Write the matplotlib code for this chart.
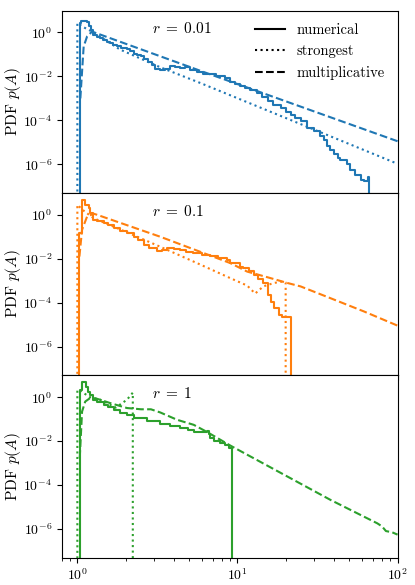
import matplotlib
matplotlib.use("Agg")
import matplotlib.pyplot as plt
from matplotlib.lines import Line2D
from matplotlib.ticker import FixedLocator, NullLocator

plt.rcParams["font.family"] = "serif"
plt.rcParams["font.serif"] = ["cmr10", "DejaVu Serif"]
plt.rcParams["mathtext.fontset"] = "cm"
plt.rcParams["axes.formatter.use_mathtext"] = True
plt.rcParams["axes.unicode_minus"] = False

# ---- data ----
r_labels = [r"$r\;=\;0.01$", r"$r\;=\;0.1$", r"$r\;=\;1$"]
colors = ["#1f77b4", "#ff7f0e", "#2ca02c"]

# r = 0.01
num1_x = [1.0, 1.04, 1.06, 1.095, 1.15, 1.19, 1.22, 1.26, 1.33, 1.39, 1.45, 1.54, 1.61, 1.68,
          1.78, 1.88, 2.04, 2.14, 2.27, 2.37, 2.48, 2.62, 2.78, 2.94, 3.07, 3.3, 3.55, 3.81,
          4.1, 4.4, 4.73, 5.08, 5.55, 6.13, 6.78, 7.3, 7.83, 8.4, 9.04, 9.7, 10.4, 11.2, 12.06,
          13.2, 14.3, 15.6, 16.7, 18.6, 20.0, 21.5, 23.0, 24.8, 27.2, 29.9, 33.0, 34.5, 36.5,
          38.1, 39.8, 42.2, 44.0, 48.5, 50.8, 54.6, 58.7, 61.3, 64.9, 65.9]
num1_y = [1e-9, 2.7, 3.3, 3.5, 3.0, 1.9, 1.3, 0.79, 0.65, 0.55, 0.47, 0.38, 0.33, 0.28,
          0.24, 0.2, 0.176, 0.14, 0.11, 0.095, 0.081, 0.06, 0.045, 0.032, 0.022, 0.02, 0.022, 0.0285,
          0.026, 0.024, 0.028, 0.02, 0.016, 0.0132, 0.0125, 0.011, 0.0105, 0.0085, 0.0055, 0.0045, 0.0038, 0.003, 0.0024,
          0.0018, 0.0012, 0.0008, 5.1e-4, 3.5e-4, 2.5e-4, 1.8e-4, 1.3e-4, 9e-5, 4.5e-5, 3.2e-5, 1.87e-5, 1.3e-5, 6.6e-6,
          4.7e-6, 2.8e-6, 2e-6, 1.6e-6, 1e-6, 5.7e-7, 3.4e-7, 2e-7, 1.7e-7, 2.6e-7, 1e-9]
str1_x = [1.0, 1.0, 1.1, 1.265, 1.84, 3.3, 5.87, 100.0]
str1_y = [1e-9, 2.7, 1.7, 1.0, 0.17, 0.026, 0.005, 1.05e-6]
mul1_x = [1.044, 1.095, 1.15, 1.235, 5.87, 100.0]
mul1_y = [1e-3, 0.23, 0.66, 1.1, 0.018, 1.12e-5]

# r = 0.1
num2_x = [1.0, 1.03, 1.07, 1.12, 1.18, 1.2, 1.26, 1.33, 1.46, 1.55, 1.69, 1.85, 2.04, 2.25,
          2.4, 2.6, 2.8, 3.15, 3.4, 3.63, 4.0, 4.4, 4.8, 5.3, 6.0, 6.78, 7.6, 8.6, 9.04, 10.4,
          10.9, 11.8, 12.6, 13.5, 14.5, 15.6, 16.1, 16.9, 18.1, 19.0, 21.7]
num2_y = [1e-9, 0.15, 4.8, 2.85, 2.0, 1.2, 0.59, 0.5, 0.42, 0.33, 0.25, 0.19, 0.147, 0.1,
          0.07, 0.043, 0.03, 0.0215, 0.025, 0.0306, 0.028, 0.0256, 0.021, 0.018, 0.015, 0.0128, 0.011, 0.009, 0.0063, 0.0044,
          0.0038, 0.0028, 0.0019, 0.0012, 7.9e-4, 2.3e-4, 1.1e-4, 5.8e-5, 2.7e-5, 2.3e-5, 1e-9]
str2_x = [1.0, 1.0, 1.1, 1.265, 2.04, 3.3, 5.87, 9.04, 11.5, 12.9, 14.5, 16.9, 19.4, 20.0, 20.0]
str2_y = [1e-9, 2.85, 1.5, 0.7, 0.16, 0.035, 5.4e-3, 1.3e-3, 6e-4, 2.6e-4, 5.5e-4, 7.9e-4, 9.3e-4, 8.3e-4, 1e-9]
mul2_x = [1.03, 1.07, 1.15, 1.265, 1.33, 3.3, 9.04, 11.5, 15.6, 20.5, 24.8, 38.1, 61.6, 100.0]
mul2_y = [0.0126, 0.21, 0.83, 1.12, 1.0, 0.1, 6.3e-3, 2.6e-3, 1.4e-3, 7.9e-4, 5.5e-4, 1.6e-4, 4e-5, 9e-6]

# r = 1
num3_x = [1.0, 1.04, 1.07, 1.13, 1.17, 1.2, 1.26, 1.33, 1.46, 1.55, 1.69, 1.85, 2.04, 2.25,
          2.72, 3.3, 3.8, 4.4, 4.9, 5.33, 6.2, 6.45, 6.65, 6.78, 7.1, 7.83, 8.4, 8.8, 9.27]
num3_y = [1e-9, 2.2, 4.7, 3.0, 1.8, 1.2, 0.75, 0.6, 0.45, 0.35, 0.265, 0.19, 0.146, 0.11,
          0.084, 0.059, 0.048, 0.039, 0.032, 0.027, 0.026, 0.029, 0.02, 0.0137, 0.0096, 0.0082, 0.0068, 0.0048, 1e-9]
str3_x = [1.0, 1.0, 1.05, 1.1, 1.2, 1.39, 1.53, 1.73, 2.04, 2.22, 2.22]
str3_y = [1e-9, 2.1, 2.0, 1.5, 1.0, 0.76, 0.54, 0.33, 0.76, 1.6, 1e-9]
mul3_x = [1.035, 1.07, 1.12, 1.2, 1.3, 1.39, 1.6, 2.04, 2.5, 2.88, 3.3, 4.2, 5.33, 6.45,
          9.04, 38.1, 74.7, 80.0, 84.6, 92.6, 100.0]
mul3_y = [1.7e-3, 0.22, 0.63, 0.9, 0.88, 0.76, 0.54, 0.32, 0.28, 0.28, 0.2, 0.093, 0.055, 0.026,
          6.2e-3, 2.1e-5, 1.8e-6, 1.3e-6, 8e-7, 7e-7, 5.5e-7]

numerical = [(num1_x, num1_y), (num2_x, num2_y), (num3_x, num3_y)]
strongest = [(str1_x, str1_y), (str2_x, str2_y), (str3_x, str3_y)]
multiplicative = [(mul1_x, mul1_y), (mul2_x, mul2_y), (mul3_x, mul3_y)]

fig, axes = plt.subplots(3, 1, sharex=True, figsize=(4.15, 5.85), dpi=100)
fig.subplots_adjust(left=0.149, right=0.958, top=0.982, bottom=0.047, hspace=0)

for i, ax in enumerate(axes):
    c = colors[i]
    ax.plot(*numerical[i], drawstyle="steps-post", color=c, lw=1.5)
    ax.plot(*strongest[i], ":", color=c, lw=1.5)
    ax.plot(*multiplicative[i], "--", color=c, lw=1.5)
    ax.set_xscale("log")
    ax.set_yscale("log")
    ax.set_xlim(0.8, 100)
    ax.set_ylim(5e-8, 10)
    ax.yaxis.set_major_locator(FixedLocator([1e-6, 1e-4, 1e-2, 1e0]))
    ax.yaxis.set_minor_locator(NullLocator())
    ax.set_ylabel("PDF $p(A)$", fontsize=11, labelpad=0)
    ax.tick_params(labelsize=10)
    ax.text(0.27, 0.9, r_labels[i], transform=ax.transAxes, fontsize=11,
            ha="left", va="center")

handles = [Line2D([], [], color="black", ls="-", lw=1.5),
           Line2D([], [], color="black", ls=":", lw=1.5),
           Line2D([], [], color="black", ls="--", lw=1.5)]
axes[0].legend(handles, ["numerical", "strongest", "multiplicative"],
               loc="upper right", frameon=False, fontsize=10.5)

fig.savefig("out.png", dpi=100)
